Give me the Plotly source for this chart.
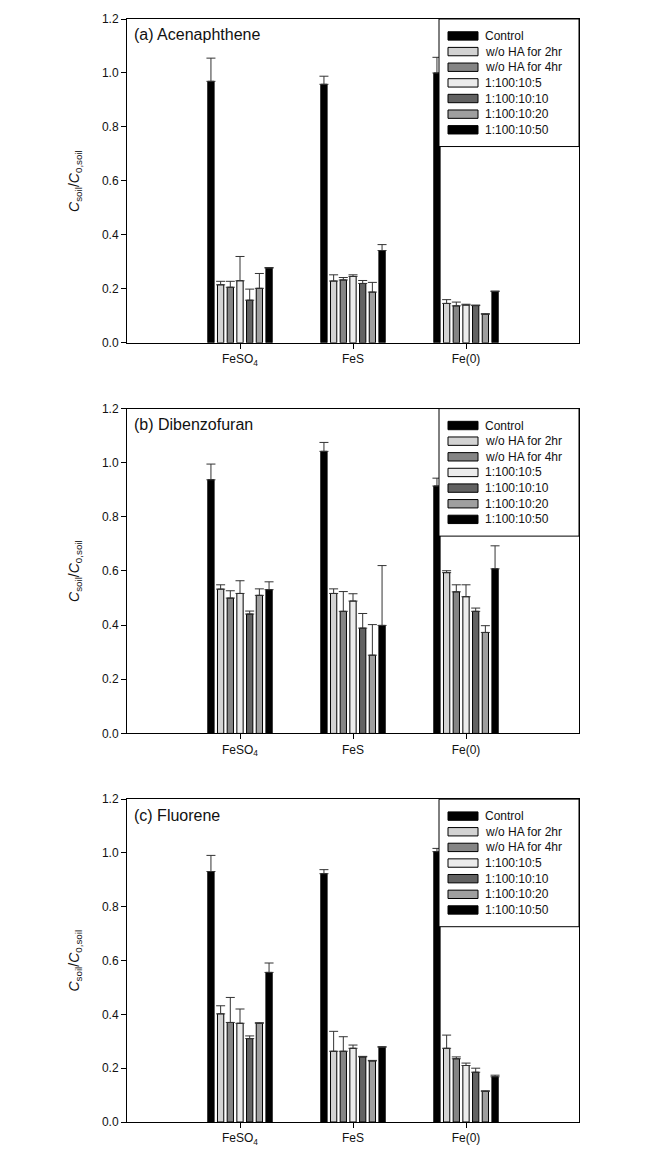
import plotly.graph_objects as go

categories = ["FeSO<sub>4</sub>", "FeS", "Fe(0)"]
series_names = ["Control", "w/o HA for 2hr", "w/o HA for 4hr",
                "1:100:10:5", "1:100:10:10", "1:100:10:20", "1:100:10:50"]
series_colors = ["#000000", "#d3d3d3", "#858585", "#ececec",
                 "#626262", "#9f9f9f", "#000000"]
panel_titles = ["(a) Acenaphthene", "(b) Dibenzofuran", "(c) Fluorene"]
y_ticks = [0.0, 0.2, 0.4, 0.6, 0.8, 1.0, 1.2]

# rows = series (in legend order), columns = categories
acenaphthene_mean = [
    [0.969, 0.958, 1.000],
    [0.215, 0.229, 0.146],
    [0.206, 0.233, 0.137],
    [0.230, 0.246, 0.140],
    [0.158, 0.220, 0.138],
    [0.202, 0.188, 0.106],
    [0.277, 0.342, 0.190],
]
acenaphthene_err = [
    [0.086, 0.030, 0.058],
    [0.013, 0.023, 0.014],
    [0.022, 0.009, 0.014],
    [0.090, 0.006, 0.003],
    [0.041, 0.011, 0.002],
    [0.055, 0.036, 0.002],
    [0.002, 0.022, 0.002],
]
dibenzofuran_mean = [
    [0.937, 1.042, 0.914],
    [0.533, 0.517, 0.594],
    [0.500, 0.451, 0.523],
    [0.517, 0.489, 0.505],
    [0.441, 0.389, 0.451],
    [0.510, 0.289, 0.373],
    [0.531, 0.399, 0.608],
]
dibenzofuran_err = [
    [0.058, 0.033, 0.029],
    [0.016, 0.017, 0.007],
    [0.027, 0.073, 0.026],
    [0.047, 0.027, 0.044],
    [0.011, 0.054, 0.012],
    [0.024, 0.113, 0.025],
    [0.029, 0.221, 0.085],
]
fluorene_mean = [
    [0.931, 0.923, 1.005],
    [0.402, 0.263, 0.274],
    [0.370, 0.263, 0.235],
    [0.367, 0.274, 0.210],
    [0.310, 0.242, 0.185],
    [0.367, 0.227, 0.114],
    [0.556, 0.278, 0.168],
]
fluorene_err = [
    [0.060, 0.015, 0.012],
    [0.030, 0.074, 0.049],
    [0.093, 0.054, 0.007],
    [0.053, 0.012, 0.009],
    [0.010, 0.002, 0.015],
    [0.002, 0.002, 0.002],
    [0.035, 0.002, 0.006],
]

panels = [
    (acenaphthene_mean, acenaphthene_err),
    (dibenzofuran_mean, dibenzofuran_err),
    (fluorene_mean, fluorene_err),
]

FONT = "Liberation Sans, Arial, sans-serif"
W, H = 656, 1164
ML, MR, MT, MB = 127, 77, 15, 42
plot_h = H - MT - MB
# panel top / bottom pixel rows
panel_px = [(15, 340), (406, 732), (798, 1122)]

fig = go.Figure()
layout = dict(
    width=W, height=H,
    margin=dict(l=ML, r=MR, t=MT, b=MB),
    paper_bgcolor="white", plot_bgcolor="white",
    barmode="group", bargap=0.4, bargroupgap=0.35,
    showlegend=False,
    font=dict(family=FONT, size=12, color="#111111"),
)
shapes = []
annotations = []

for p, (means, errs) in enumerate(panels):
    sfx = "" if p == 0 else str(p + 1)
    xa, ya = "x" + sfx, "y" + sfx
    for s, name in enumerate(series_names):
        fig.add_trace(go.Bar(
            x=categories, y=means[s], name=name,
            xaxis=xa, yaxis=ya,
            marker=dict(color=series_colors[s], line=dict(color="#000000", width=1)),
            error_y=dict(type="data", array=errs[s], arrayminus=[0, 0, 0],
                         symmetric=False, color="#333333", thickness=1, width=4.5),
            showlegend=False,
        ))
    top, bot = panel_px[p]
    dom = [(H - MB - bot) / plot_h, (H - MB - top) / plot_h]
    layout["xaxis" + sfx] = dict(
        domain=[0, 1], anchor=ya, type="category",
        categoryorder="array", categoryarray=categories,
        range=[-1, 3], showline=True, linecolor="#000000", linewidth=1,
        mirror=True, ticks="outside", ticklen=5, tickcolor="#000000",
        showgrid=False, zeroline=False,
        tickfont=dict(family=FONT, size=12, color="#111111"),
    )
    layout["yaxis" + sfx] = dict(
        domain=dom, anchor=xa, range=[0, 1.2],
        tickvals=y_ticks, ticktext=["%.1f" % v for v in y_ticks],
        showline=True, linecolor="#000000", linewidth=1,
        mirror=True, ticks="outside", ticklen=5, tickcolor="#000000",
        showgrid=False, zeroline=False,
        tickfont=dict(family=FONT, size=12, color="#111111"),
    )
    ph = bot - top
    xd, yd = xa + " domain", ya + " domain"
    # panel title
    annotations.append(dict(
        text=panel_titles[p], xref=xd, yref=yd, x=0.011, y=1 - 16 / ph,
        xanchor="left", yanchor="middle", showarrow=False,
        font=dict(family=FONT, size=16, color="#111111"),
    ))
    # y-axis title
    annotations.append(dict(
        text="<i>C</i><sub>soil</sub>/<i>C</i><sub>0,soil</sub>",
        xref="paper", yref=yd, x=(75 - ML) / (W - ML - MR), y=0.5,
        xanchor="center", yanchor="middle", textangle=-90, showarrow=False,
        font=dict(family=FONT, size=14, color="#111111"),
    ))
    # legend box
    pw = W - ML - MR
    shapes.append(dict(
        type="rect", xref=xd, yref=yd,
        x0=(439 - ML) / pw, x1=1, y0=1 - 128 / ph, y1=1,
        fillcolor="white", line=dict(color="#000000", width=1), layer="above",
    ))
    for s, name in enumerate(series_names):
        cy = 17 + 15.7 * s
        shapes.append(dict(
            type="rect", xref=xd, yref=yd,
            x0=(448 - ML) / pw, x1=(478 - ML) / pw,
            y0=1 - (cy + 4.2) / ph, y1=1 - (cy - 4.2) / ph,
            fillcolor=series_colors[s], line=dict(color="#000000", width=1),
            layer="above",
        ))
        annotations.append(dict(
            text=name, xref=xd, yref=yd, x=(483 - ML) / pw, y=1 - cy / ph,
            xanchor="left", yanchor="middle", showarrow=False,
            font=dict(family=FONT, size=12, color="#111111"),
        ))

layout["shapes"] = shapes
layout["annotations"] = annotations
fig.update_layout(**layout)
fig.write_html(
    "out.html",
    config={"displayModeBar": False},
    post_script="document.body.style.margin='0';document.body.style.padding='0';",
)
